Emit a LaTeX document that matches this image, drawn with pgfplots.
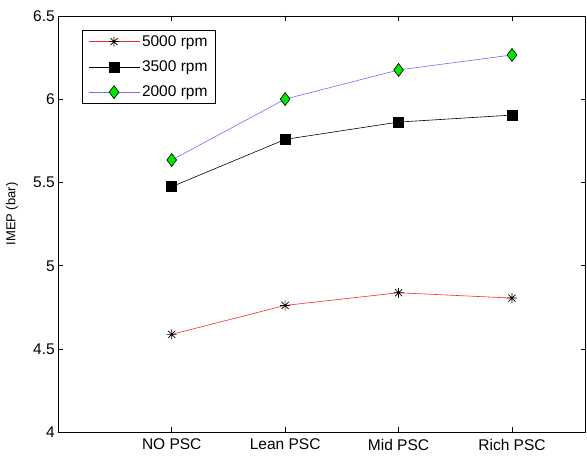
\documentclass[border=0pt]{standalone}
\usepackage{pgfplots}
\pgfplotsset{compat=1.18}
\usepackage{fontspec}
\setmainfont{Liberation Sans}

\definecolor{lineRed}{RGB}{255,40,40}
\definecolor{lineBlue}{RGB}{110,110,255}
\definecolor{markGreen}{RGB}{0,230,0}

% eight-spoke asterisk
\pgfdeclareplotmark{ast8}{%
  \pgfpathmoveto{\pgfqpoint{-\pgfplotmarksize}{0pt}}%
  \pgfpathlineto{\pgfqpoint{\pgfplotmarksize}{0pt}}%
  \pgfpathmoveto{\pgfqpoint{0pt}{-\pgfplotmarksize}}%
  \pgfpathlineto{\pgfqpoint{0pt}{\pgfplotmarksize}}%
  \pgfpathmoveto{\pgfqpoint{-0.7071\pgfplotmarksize}{-0.7071\pgfplotmarksize}}%
  \pgfpathlineto{\pgfqpoint{0.7071\pgfplotmarksize}{0.7071\pgfplotmarksize}}%
  \pgfpathmoveto{\pgfqpoint{-0.7071\pgfplotmarksize}{0.7071\pgfplotmarksize}}%
  \pgfpathlineto{\pgfqpoint{0.7071\pgfplotmarksize}{-0.7071\pgfplotmarksize}}%
  \pgfusepathqstroke}

\begin{document}
\begin{tikzpicture}
\begin{axis}[
  at={(0pt,0pt)}, anchor=south west,
  scale only axis,
  width=527.4pt, height=416.3pt,
  xmin=0, xmax=4.65,
  ymin=4, ymax=6.5,
  xtick={1,2,3,4},
  xticklabels={NO PSC, Lean PSC, Mid PSC, Rich PSC},
  ytick={4,4.5,5,5.5,6,6.5},
  yticklabels={4,4.5,5,5.5,6,6.5},
  tick align=inside,
  major tick length=5pt,
  tick style={black, line width=0.6pt},
  axis line style={black, line width=0.9pt},
  font=\fontsize{15.5}{18}\selectfont,
  ticklabel style={font=\fontsize{15.5}{18}\selectfont},
  xticklabel style={yshift=-3pt},
  legend style={
    at={(0.0443,0.9664)}, anchor=north west,
    draw=black, line width=0.9pt,
    font=\fontsize{15.5}{18}\selectfont,
    row sep=9pt, inner xsep=6pt, inner ysep=3pt,
    cells={anchor=west},
  },
]
\addplot[color=lineRed, line width=0.6pt, mark=ast8, mark size=5pt,
  mark options={black, line width=0.7pt},
  legend image code/.code={
    \draw[draw=lineRed, line width=0.9pt] (0pt,0pt) -- (51pt,0pt);
    \draw[black, line width=0.7pt] plot[mark=ast8, mark size=5pt]
      coordinates {(25.5pt,0pt)};
  }]
  coordinates {(1,4.588) (2,4.762) (3,4.838) (4,4.806)};
\addlegendentry{5000 rpm}
\addplot[color=black, line width=0.6pt, mark=square*, mark size=5pt,
  mark options={black},
  legend image code/.code={
    \draw[black, line width=0.6pt] (0pt,0pt) -- (51pt,0pt);
    \draw[black, fill=black] plot[mark=square*, mark size=5pt]
      coordinates {(25.5pt,0pt)};
  }]
  coordinates {(1,5.475) (2,5.759) (3,5.863) (4,5.905)};
\addlegendentry{3500 rpm}
\addplot[color=lineBlue, line width=0.6pt, mark=diamond*, mark size=6.5pt,
  mark options={draw=black, fill=markGreen, line width=0.6pt},
  legend image code/.code={
    \draw[draw=lineBlue, line width=0.7pt] (0pt,0pt) -- (51pt,0pt);
    \draw[black, fill=markGreen, line width=0.6pt]
      plot[mark=diamond*, mark size=6.5pt] coordinates {(25.5pt,0pt)};
  }]
  coordinates {(1,5.635) (2,6.001) (3,6.176) (4,6.266)};
\addlegendentry{2000 rpm}
\end{axis}
% y-axis title, left of the tick labels
\node[rotate=90, anchor=center, font=\fontsize{13}{15}\selectfont]
  at (-46.3pt,218.3pt) {IMEP (bar)};
\pgfresetboundingbox
\path (-58.3pt,-25.7pt) rectangle (528.7pt,432.3pt);
\end{tikzpicture}
\end{document}
